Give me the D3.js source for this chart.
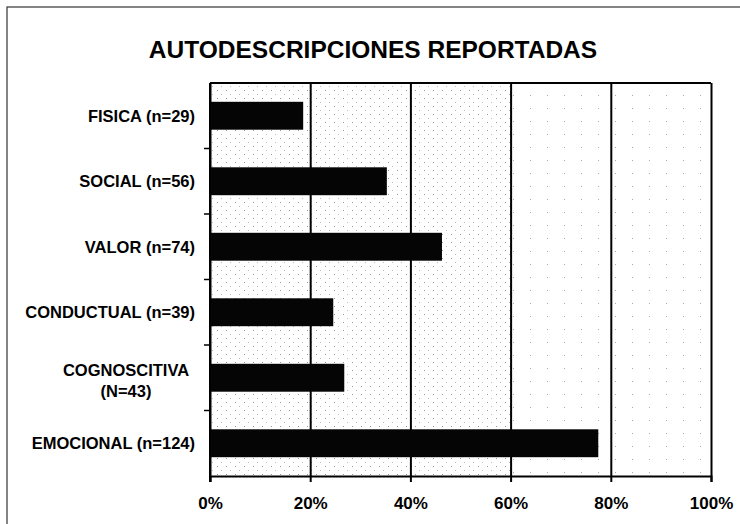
<!DOCTYPE html>
<meta charset="UTF-8">
<html>
<head>
<script src="https://d3js.org/d3.v7.min.js"></script>
<style>
  body { margin: 0; background: #fff; }
  svg { font-family: "Liberation Sans", Arial, sans-serif; font-weight: bold; }
</style>
</head>
<body>
<svg id="chart" width="740" height="524"></svg>
<script>
// data (percent of answers)
var categories = ["FISICA (n=29)", "SOCIAL (n=56)", "VALOR (n=74)", "CONDUCTUAL (n=39)", "COGNOSCITIVA\n(N=43)", "EMOCIONAL (n=124)"];
var percents = [18.6, 35.3, 46.3, 24.6, 26.8, 77.5];
var tickValues = [0, 20, 40, 60, 80, 100];
var tickLabels = ["0%", "20%", "40%", "60%", "80%", "100%"];
var title = "AUTODESCRIPCIONES REPORTADAS";

var svg = d3.select("#chart");
var pLeft = 210, pRight = 711, pTop = 83, pBottom = 476;

var x = d3.scaleLinear().domain([0, 100]).range([pLeft, pRight]);
var y = d3.scaleBand().domain(categories).range([pTop, pBottom])
    .paddingInner(0.574).paddingOuter(0.287);

// outer frame (cut off at right and bottom like the scan)
svg.append("rect")
    .attr("x", 7).attr("y", 7).attr("width", 760).attr("height", 540)
    .attr("fill", "none").attr("stroke", "#333").attr("stroke-width", 1.2);

svg.append("text")
    .attr("x", 373).attr("y", 58)
    .attr("text-anchor", "middle")
    .attr("font-size", 24.5)
    .text(title);

// light stipple from the scan
var defs = svg.append("defs");
var p1 = defs.append("pattern").attr("id", "dots").attr("width", 9).attr("height", 8)
    .attr("patternUnits", "userSpaceOnUse");
p1.append("rect").attr("x", 1).attr("y", 2).attr("width", 1).attr("height", 1).attr("fill", "#999");
p1.append("rect").attr("x", 5).attr("y", 6).attr("width", 1).attr("height", 1).attr("fill", "#bbb");
var p2 = defs.append("pattern").attr("id", "dots2").attr("width", 17).attr("height", 13)
    .attr("patternUnits", "userSpaceOnUse");
p2.append("rect").attr("x", 3).attr("y", 4).attr("width", 1).attr("height", 1).attr("fill", "#aaa");

svg.append("rect")
    .attr("x", x(0)).attr("y", pTop).attr("width", x(60) - x(0)).attr("height", pBottom - pTop)
    .attr("fill", "url(#dots)");
svg.append("rect")
    .attr("x", x(60)).attr("y", pTop).attr("width", x(100) - x(60)).attr("height", pBottom - pTop)
    .attr("fill", "url(#dots2)");

// vertical gridlines
svg.append("g")
    .attr("transform", "translate(0," + pBottom + ")")
    .call(d3.axisBottom(x).tickValues(tickValues).tickSize(-(pBottom - pTop)).tickFormat(""))
    .call(function (g) {
      g.select(".domain").remove();
      g.selectAll("line").attr("stroke", "#000").attr("stroke-width", 2);
    });

// plot frame top
svg.append("line")
    .attr("x1", pLeft).attr("x2", pRight).attr("y1", pTop).attr("y2", pTop)
    .attr("stroke", "#000").attr("stroke-width", 2);

// bars
svg.selectAll(".bar")
    .data(percents)
    .enter()
  .append("rect")
    .attr("class", "bar")
    .attr("x", x(0))
    .attr("y", function (d, i) { return y(categories[i]); })
    .attr("width", function (d) { return x(d) - x(0); })
    .attr("height", y.bandwidth())
    .attr("fill", "#050505");

// x axis
svg.append("g")
    .attr("transform", "translate(0," + pBottom + ")")
    .call(d3.axisBottom(x).tickValues(tickValues).tickSize(6).tickPadding(15)
      .tickFormat(function (d, i) { return tickLabels[i]; }))
    .call(function (g) {
      g.select(".domain").attr("stroke", "#000").attr("stroke-width", 2);
      g.selectAll("line").attr("stroke", "#000").attr("stroke-width", 2);
      g.selectAll("text").attr("font-size", 17).attr("font-family", "Liberation Sans, Arial, sans-serif")
        .attr("font-weight", "bold").attr("fill", "#000");
    });

// y axis line and boundary ticks
svg.append("line")
    .attr("x1", pLeft).attr("x2", pLeft).attr("y1", pTop).attr("y2", pBottom + 6)
    .attr("stroke", "#000").attr("stroke-width", 2);
var gap = y.step() * y.paddingInner();
svg.selectAll(".ytick")
    .data(categories.slice(1))
    .enter()
  .append("line")
    .attr("x1", pLeft - 6).attr("x2", pLeft)
    .attr("y1", function (d) { return y(d) - gap / 2; })
    .attr("y2", function (d) { return y(d) - gap / 2; })
    .attr("stroke", "#000").attr("stroke-width", 1.5);

// category labels
svg.selectAll(".lab")
    .data(categories)
    .enter()
  .append("text")
    .attr("class", "lab")
    .attr("font-size", 16.5)
    .each(function (d) {
      var lines = d.split("\n");
      var cy = y(d) + y.bandwidth() / 2;
      var t = d3.select(this);
      if (lines.length == 1) {
        t.attr("x", 195).attr("y", cy + 6).attr("text-anchor", "end").text(d);
      } else {
        t.attr("text-anchor", "middle");
        lines.forEach(function (ln, k) {
          t.append("tspan").attr("x", 126).attr("y", cy - 2 + k * 21).text(ln);
        });
      }
    });
</script>
</body>
</html>
